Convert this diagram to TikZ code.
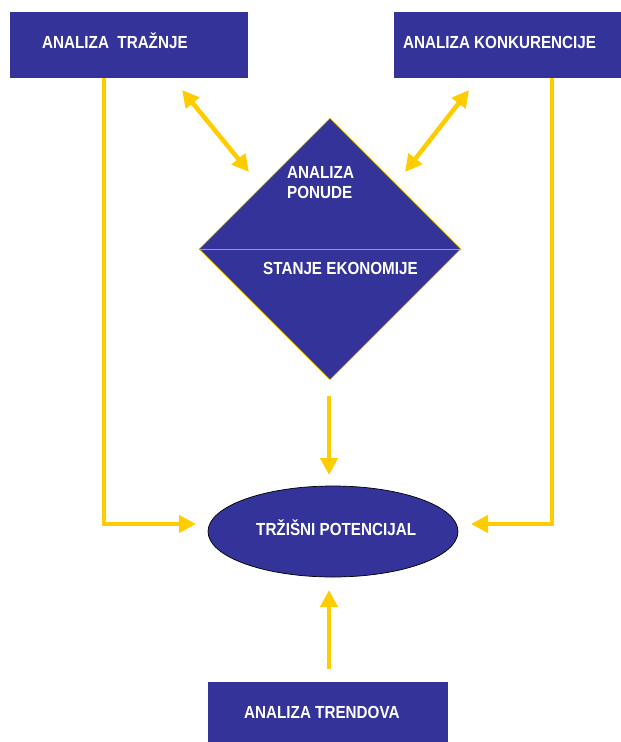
\documentclass[tikz,border=0pt]{standalone}
\usepackage{fontspec}
\newfontfamily\lab{Liberation Sans}[FakeStretch=0.87]
\usetikzlibrary{arrows.meta,shapes.geometric}
\definecolor{nblue}{HTML}{333399}
\definecolor{nyel}{HTML}{FFCC00}
\definecolor{ngold}{HTML}{CC9933}
\tikzset{
  box/.style={draw=none,fill=nblue,inner sep=0pt,anchor=north west},
  txt/.style={text=white,inner sep=0pt,font=\lab\bfseries\fontsize{17.5}{21}\selectfont,align=left},
  yarrow/.style={draw=nyel,line width=4.5pt,-{Triangle[width=17pt,length=17pt]}},
  ydarrow/.style={draw=nyel,line width=4.5pt,{Triangle[width=17pt,length=17pt]}-{Triangle[width=17pt,length=17pt]}},
}
\begin{document}
\begin{tikzpicture}[x=1pt,y=-1pt]
\useasboundingbox (0,0) rectangle (621,742);
% boxes
\node[box,minimum width=238pt,minimum height=66pt] (bt) at (10,12) {};
\node[box,minimum width=227pt,minimum height=66pt] (bk) at (394,12) {};
\node[box,minimum width=240pt,minimum height=60pt] (bn) at (208,682) {};
\node[txt,anchor=base west] (tt) at (42,48) {ANALIZA\ \ TRAŽNJE};
\node[txt,anchor=base west] (tk) at (403,48) {ANALIZA KONKURENCIJE};
\node[txt,anchor=base west] (tn) at (244,718) {ANALIZA TRENDOVA};
% diamond
\node[diamond,aspect=1,minimum width=262pt,minimum height=262pt,inner sep=0pt,fill=nblue,draw=nyel,line width=0.6pt] (d) at (330,249) {};
\draw[ngold,line width=0.8pt] (d.west) -- (d.east);
\node[txt,anchor=base west] (tp1) at (287,178) {ANALIZA};
\node[txt,anchor=base west] (tp2) at (287,198.5) {PONUDE};
\node[txt,anchor=base west] (ts) at (263,274) {STANJE EKONOMIJE};
% ellipse
\node[ellipse,minimum width=250pt,minimum height=91pt,inner sep=0pt,fill=nblue,draw=black,line width=0.7pt] (e) at (333,531.5) {};
\node[txt,anchor=base west] (te) at (256,535) {TRŽIŠNI POTENCIJAL};
% connectors
\coordinate (la) at (182,90);
\coordinate (lb) at (249,172);
\coordinate (ra) at (469,90);
\coordinate (rb) at (405,172);
\draw[ydarrow] (la) -- (lb);
\draw[ydarrow] (ra) -- (rb);
\coordinate (lt) at (104,78);
\coordinate (lc) at (104,524);
\coordinate (lh) at (196,524);
\draw[yarrow] (lt) -- (lc) -- (lh);
\coordinate (rt) at (552,78);
\coordinate (rc) at (552,524);
\coordinate (rh) at (471,524);
\draw[yarrow] (rt) -- (rc) -- (rh);
\coordinate (ds) at (329,396);
\coordinate (dh) at (329,475);
\draw[yarrow] (ds) -- (dh);
\coordinate (us) at (329,669);
\coordinate (uh) at (329,590);
\draw[yarrow] (us) -- (uh);
\end{tikzpicture}
\end{document}
